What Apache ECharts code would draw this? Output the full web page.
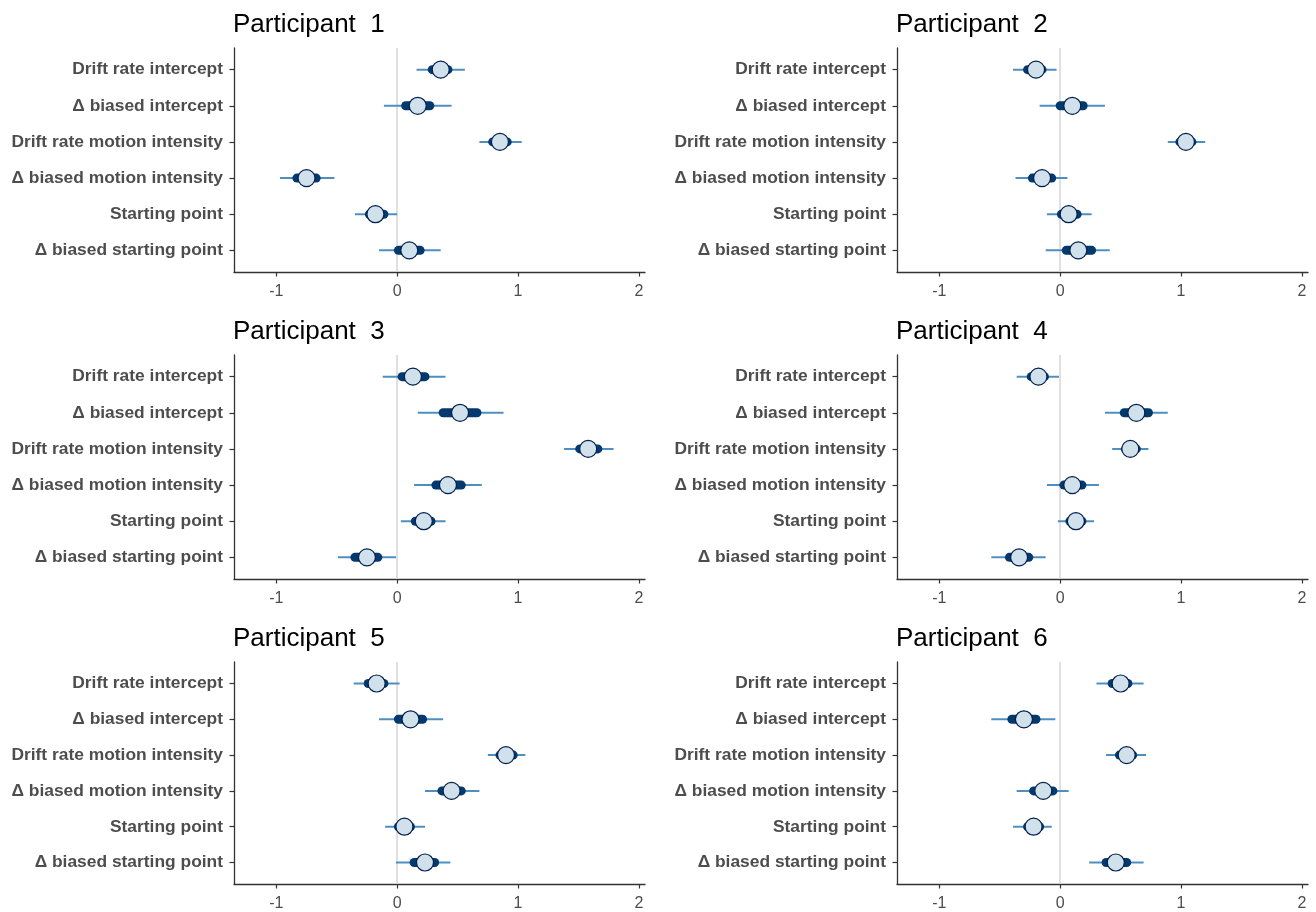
<!DOCTYPE html>
<html>
<head>
<meta charset="utf-8">
<script src="https://cdn.jsdelivr.net/npm/echarts@6/dist/echarts.min.js"></script>
<style>
html,body{margin:0;padding:0;background:#fff;}
#chart{width:1316px;height:912px;}
</style>
</head>
<body>
<div id="chart"></div>
<script>
// ---- data ----
const categories = [
  "Drift rate intercept",
  "\u0394 biased intercept",
  "Drift rate motion intensity",
  "\u0394 biased motion intensity",
  "Starting point",
  "\u0394 biased starting point"
];
const participants = ["Participant  1","Participant  2","Participant  3","Participant  4","Participant  5","Participant  6"];
const xTicks = [-1, 0, 1, 2];

// point estimates (per participant, per category)
const pointEst = [
  [0.36, 0.17, 0.85, -0.75, -0.18, 0.10],
  [-0.20, 0.10, 1.04, -0.15, 0.07, 0.15],
  [0.13, 0.52, 1.58, 0.42, 0.22, -0.25],
  [-0.18, 0.63, 0.58, 0.10, 0.13, -0.34],
  [-0.17, 0.11, 0.90, 0.45, 0.06, 0.23],
  [0.50, -0.30, 0.55, -0.14, -0.22, 0.46]
];
// outer interval
const outerLow = [
  [0.16, -0.11, 0.68, -0.97, -0.35, -0.15],
  [-0.39, -0.17, 0.89, -0.37, -0.11, -0.12],
  [-0.12, 0.17, 1.38, 0.14, 0.03, -0.49],
  [-0.36, 0.37, 0.43, -0.11, -0.02, -0.57],
  [-0.36, -0.15, 0.75, 0.23, -0.10, -0.01],
  [0.30, -0.57, 0.38, -0.36, -0.39, 0.24]
];
const outerHigh = [
  [0.56, 0.45, 1.03, -0.52, 0.00, 0.36],
  [-0.03, 0.37, 1.20, 0.06, 0.26, 0.41],
  [0.40, 0.88, 1.79, 0.70, 0.40, -0.01],
  [-0.01, 0.89, 0.73, 0.32, 0.28, -0.12],
  [0.02, 0.38, 1.06, 0.68, 0.23, 0.44],
  [0.69, -0.04, 0.71, 0.07, -0.07, 0.69]
];
// inner interval
const innerLow = [
  [0.29, 0.07, 0.79, -0.83, -0.23, 0.01],
  [-0.27, 0.00, 0.99, -0.23, 0.01, 0.05],
  [0.04, 0.38, 1.51, 0.32, 0.15, -0.35],
  [-0.24, 0.53, 0.54, 0.03, 0.08, -0.42],
  [-0.24, 0.01, 0.85, 0.37, 0.01, 0.14],
  [0.43, -0.40, 0.49, -0.22, -0.27, 0.38]
];
const innerHigh = [
  [0.42, 0.27, 0.91, -0.67, -0.11, 0.19],
  [-0.15, 0.19, 1.09, -0.07, 0.14, 0.26],
  [0.23, 0.66, 1.66, 0.53, 0.28, -0.16],
  [-0.13, 0.73, 0.63, 0.18, 0.18, -0.26],
  [-0.11, 0.21, 0.96, 0.53, 0.11, 0.31],
  [0.56, -0.20, 0.60, -0.06, -0.17, 0.55]
];

// ---- layout ----
const colLeft = [234, 897];
const rowTop = [48, 355, 662];
const plotW = 411, plotH = 224;
const FONT = "'Liberation Sans', Arial, Helvetica, sans-serif";

const grids = [], xAxes = [], yAxes = [], series = [], titles = [];

participants.forEach((name, p) => {
  const col = p % 2, row = Math.floor(p / 2);
  grids.push({left: colLeft[col], top: rowTop[row], width: plotW, height: plotH, containLabel: false});
  titles.push({
    text: name, left: colLeft[col] - 1, top: rowTop[row] - 36, padding: 0,
    textStyle: {fontFamily: FONT, fontSize: 26, fontWeight: 'normal', color: '#000'}
  });
  xAxes.push({
    type: 'value', gridIndex: p, min: -1.35, max: 2.05,
    splitLine: {show: false},
    axisLine: {show: true, onZero: false, lineStyle: {color: '#333', width: 1.3}},
    axisTick: {show: true, length: 4.5, customValues: xTicks, lineStyle: {color: '#333', width: 1.2}},
    axisLabel: {customValues: xTicks, margin: 12, color: '#4d4d4d', fontSize: 16, fontFamily: FONT}
  });
  yAxes.push({
    type: 'value', gridIndex: p, min: 0.4, max: 6.6, inverse: true,
    splitLine: {show: false},
    axisLine: {show: true, onZero: false, lineStyle: {color: '#333', width: 1.3}},
    axisTick: {show: true, length: 4.5, customValues: [1,2,3,4,5,6], lineStyle: {color: '#333', width: 1.2}},
    axisLabel: {
      customValues: [1,2,3,4,5,6], margin: 11, color: '#4d4d4d', fontSize: 17.4,
      fontWeight: 'bold', fontFamily: FONT,
      formatter: v => categories[Math.round(v) - 1] || ''
    }
  });
  // zero reference line
  series.push({
    type: 'line', xAxisIndex: p, yAxisIndex: p, data: [], z: 1, silent: true,
    markLine: {
      silent: true, symbol: ['none', 'none'], label: {show: false},
      lineStyle: {color: '#d6d6d6', width: 1.5, type: 'solid'},
      data: [{xAxis: 0}]
    }
  });
  const data = categories.map((c, i) => [
    outerLow[p][i], outerHigh[p][i], innerLow[p][i], innerHigh[p][i], pointEst[p][i], i + 1
  ]);
  series.push({
    type: 'custom', xAxisIndex: p, yAxisIndex: p, z: 5,
    encode: {x: [0, 1, 2, 3, 4], y: 5},
    data: data,
    renderItem: function (params, api) {
      const y = api.value(5);
      const o1 = api.coord([api.value(0), y]);
      const o2 = api.coord([api.value(1), y]);
      const i1 = api.coord([api.value(2), y]);
      const i2 = api.coord([api.value(3), y]);
      const m = api.coord([api.value(4), y]);
      return {
        type: 'group',
        children: [
          {type: 'line', shape: {x1: o1[0], y1: o1[1], x2: o2[0], y2: o2[1]},
           style: {stroke: '#4f8fbf', lineWidth: 2}},
          {type: 'line', shape: {x1: i1[0], y1: i1[1], x2: i2[0], y2: i2[1]},
           style: {stroke: '#03396c', lineWidth: 9, lineCap: 'round'}},
          {type: 'circle', shape: {cx: m[0], cy: m[1], r: 8.5},
           style: {fill: '#d1e1ec', stroke: '#011f4b', lineWidth: 1.2}}
        ]
      };
    }
  });
});

const chart = echarts.init(document.getElementById('chart'), null, {renderer: 'canvas'});
chart.setOption({
  animation: false,
  backgroundColor: '#fff',
  title: titles,
  grid: grids,
  xAxis: xAxes,
  yAxis: yAxes,
  series: series
});
</script>
</body>
</html>
